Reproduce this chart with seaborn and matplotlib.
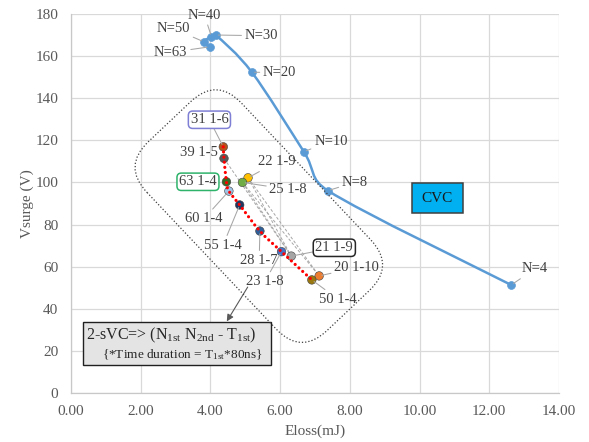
import numpy as np
import pandas as pd
import matplotlib
matplotlib.use("Agg")
import matplotlib.pyplot as plt
import seaborn as sns
from matplotlib.path import Path
from matplotlib.patches import PathPatch, Rectangle, FancyBboxPatch
from matplotlib.transforms import Affine2D

sns.set_theme(style="whitegrid")
plt.rcParams['font.family'] = ['Liberation Serif', 'DejaVu Serif']
plt.rcParams['mathtext.fontset'] = 'custom'
plt.rcParams['mathtext.rm'] = 'Liberation Serif'
plt.rcParams['mathtext.it'] = 'Liberation Serif:italic'

# CVC curve
cvc_labels = ['N=4', 'N=8', 'N=10', 'N=20', 'N=30', 'N=40', 'N=50', 'N=63']
cvc_eloss = [12.63, 7.37, 6.68, 5.19, 4.15, 4.03, 3.81, 3.98]
cvc_vsurge = [51.3, 96.1, 114.6, 152.3, 170.0, 169.2, 166.8, 164.4]

# 2-sVC points
svc_labels = ['31 1-6', '39 1-5', '63 1-4', '22 1-9', '25 1-8', '60 1-4',
              '55 1-4', '28 1-7', '23 1-8', '21 1-9', '20 1-10', '50 1-4']
svc_eloss = [4.37, 4.39, 4.46, 5.08, 4.92, 4.53, 4.84, 5.42, 6.04, 6.32, 7.12, 6.91]
svc_vsurge = [116.9, 111.4, 100.3, 102.2, 100.0, 95.9, 89.3, 76.9, 67.1, 65.0, 55.6, 53.7]
svc_colors = ['#b4531c', '#595959', '#3a6b24', '#ffc000', '#70ad47', '#9dc3e6',
              '#203864', '#2f5f98', '#4472c4', '#a5a5a5', '#ed7d31', '#9a7a10']

# red dotted front and grey dashed links
front = ['31 1-6', '39 1-5', '63 1-4', '60 1-4', '55 1-4', '28 1-7', '23 1-8', '50 1-4']
links = [('39 1-5', '21 1-9'), ('22 1-9', '21 1-9'), ('25 1-8', '21 1-9'),
         ('22 1-9', '20 1-10'), ('25 1-8', '20 1-10')]

cvc = pd.DataFrame({'Eloss': cvc_eloss, 'Vsurge': cvc_vsurge, 'label': cvc_labels})
svc = pd.DataFrame({'Eloss': svc_eloss, 'Vsurge': svc_vsurge, 'label': svc_labels})
svc_idx = svc.set_index('label')


def smooth_path(ax, xs, ys, limit=0.5):
    # Excel-like smoothed line, worked out in screen space so tangents can be capped
    p = ax.transData.transform(np.column_stack([xs, ys]).astype(float))
    n = len(p)
    verts = [p[0]]
    codes = [Path.MOVETO]

    def cap(v, seg):
        ln = np.hypot(*v)
        m = limit * np.hypot(*seg)
        return v * (m / ln) if ln > m and ln > 0 else v

    for i in range(n - 1):
        p0 = p[i - 1] if i > 0 else p[i]
        p3 = p[i + 2] if i + 2 < n else p[i + 1]
        seg = p[i + 1] - p[i]
        c1 = p[i] + cap((p[i + 1] - p0) / 6, seg)
        c2 = p[i + 1] - cap((p3 - p[i]) / 6, seg)
        verts += [c1, c2, p[i + 1]]
        codes += [Path.CURVE4] * 3
    verts = ax.transData.inverted().transform(np.array(verts))
    return Path(verts, codes)


fig = plt.figure(figsize=(5.89, 4.42), dpi=100)
ax = fig.add_axes([0.1205, 0.1109, 0.8285, 0.8575])
ax.set_xlim(0, 14)
ax.set_ylim(0, 180)
ax.set_xticks(np.arange(0, 14.01, 2))
ax.set_xticklabels([f'{v:.2f}' for v in np.arange(0, 14.01, 2)])
ax.set_yticks(np.arange(0, 181, 20))
ax.grid(True, color='#d9d9d9', lw=0.9)
ax.set_facecolor('white')
for s in ['top', 'right']:
    ax.spines[s].set_visible(False)
for s in ['left', 'bottom']:
    ax.spines[s].set_color('#c8c8c8')
    ax.spines[s].set_linewidth(0.9)
ax.tick_params(axis='both', length=0, labelsize=11, colors='#595959')
ax.tick_params(axis='y', pad=9)
ax.tick_params(axis='x', pad=9)
ax.set_xlabel('Eloss(mJ)', fontsize=11, color='#595959', labelpad=4)
ax.set_ylabel('Vsurge (V)', fontsize=11, color='#595959', labelpad=1.5)
fig.canvas.draw()

# CVC smoothed line + markers
ax.add_patch(PathPatch(smooth_path(ax, cvc['Eloss'], cvc['Vsurge']), fill=False,
                       edgecolor='#5b9bd5', lw=1.8, zorder=3))
sns.scatterplot(data=cvc, x='Eloss', y='Vsurge', color='#5b9bd5', s=32,
                edgecolor='#5b9bd5', linewidth=0.5, ax=ax, zorder=4, legend=False)

# grey dashed links
for a, b in links:
    ax.plot([svc_idx.loc[a, 'Eloss'], svc_idx.loc[b, 'Eloss']],
            [svc_idx.loc[a, 'Vsurge'], svc_idx.loc[b, 'Vsurge']],
            color='#a6a6a6', lw=0.7, ls=(0, (3, 2)), zorder=2)

# sVC markers
sns.scatterplot(data=svc, x='Eloss', y='Vsurge', hue='label', palette=svc_colors,
                s=38, edgecolor='#404040', linewidth=0.4, ax=ax, zorder=4, legend=False)

# red dotted front
fx = [svc_idx.loc[k, 'Eloss'] for k in front]
fy = [svc_idx.loc[k, 'Vsurge'] for k in front]
ax.add_patch(PathPatch(smooth_path(ax, fx, fy), fill=False, edgecolor='red', lw=2.3,
                       ls=(0, (0.01, 1.6)), capstyle='round', zorder=5))

lead = dict(arrowstyle='-', color='#a6a6a6', lw=0.75, shrinkA=0, shrinkB=2)

# CVC labels (offsets in points)
cvc_off = [(17, 11.5), (19.5, 6), (19.5, 7.5), (20, 0), (33, -0.5), (-5, 15.5),
           (-22, 9.5), (-28, -4)]
for (x, y, lab), off in zip(cvc[['Eloss', 'Vsurge', 'label']].values, cvc_off):
    ax.annotate(lab, (x, y), xytext=off, textcoords='offset points', ha='center',
                va='center', fontsize=10.5, color='#404040', arrowprops=lead, zorder=6)

# sVC labels
svc_off = [(-10, 19.5), (-18, 4.5), (-20.5, 0), (21, 11.5), (33, -5), (-18, -20),
           (-12, -29), (-0.5, -21), (-12, -21.5), (31, 6), (27, 6), (19, -14)]
boxes = {'31 1-6': '#7f7fd5', '63 1-4': '#2fb36b', '21 1-9': '#262626'}
no_lead = ['39 1-5', '63 1-4']
for (x, y, lab), off in zip(svc[['Eloss', 'Vsurge', 'label']].values, svc_off):
    bbox = None
    if lab in boxes:
        bbox = dict(boxstyle='round,pad=0.15,rounding_size=0.3', fc='white',
                    ec=boxes[lab], lw=1.1)
    ax.annotate(lab, (x, y), xytext=off, textcoords='offset points', ha='center',
                va='center', fontsize=10.5, color='#404040', bbox=bbox,
                arrowprops=None if lab in no_lead else lead, zorder=6)

# rotated rounded dotted box around the sVC cluster
cx, cy = ax.transData.transform((5.39, 84.0))
L, W = 260, 130
ring = FancyBboxPatch((-L / 2, -W / 2), L, W, boxstyle='round,pad=0,rounding_size=36',
                      fill=False, ec='#404040', lw=0.9, ls=(0, (1, 1.6)),
                      transform=Affine2D().rotate_deg(-46.6).translate(cx, cy), zorder=2)
fig.add_artist(ring)

# CVC tag
ax.add_patch(Rectangle((9.77, 85.5), 1.49, 14.2, fc='#00b0f0', ec='#404040', lw=1.1, zorder=6))
ax.text(10.515, 92.6, 'CVC', ha='center', va='center', fontsize=11, color='#1a1a1a', zorder=7)

# note box
ax.add_patch(Rectangle((0.344, 13.3), 5.39, 20.4, fc='#e4e4e4', ec='#202020', lw=1.0, zorder=6))
ax.text(2.87, 27.4, r'2-sVC=> (N$_{\mathrm{1st}}$ N$_{\mathrm{2nd}}$ - T$_{\mathrm{1st}}$)',
        ha='center', va='center', fontsize=11.5, color='#262626', zorder=7)
ax.text(3.2, 18.4, r'{*Time duration = T$_{\mathrm{1st}}$*80ns}',
        ha='center', va='center', fontsize=9.5, color='#262626', zorder=7)
ax.annotate('', xy=(4.47, 34.0), xytext=(5.07, 50.3),
            arrowprops=dict(arrowstyle='-|>', color='#595959', lw=0.8,
                            mutation_scale=10, shrinkA=0, shrinkB=0), zorder=6)

fig.savefig('out.png', dpi=100)
